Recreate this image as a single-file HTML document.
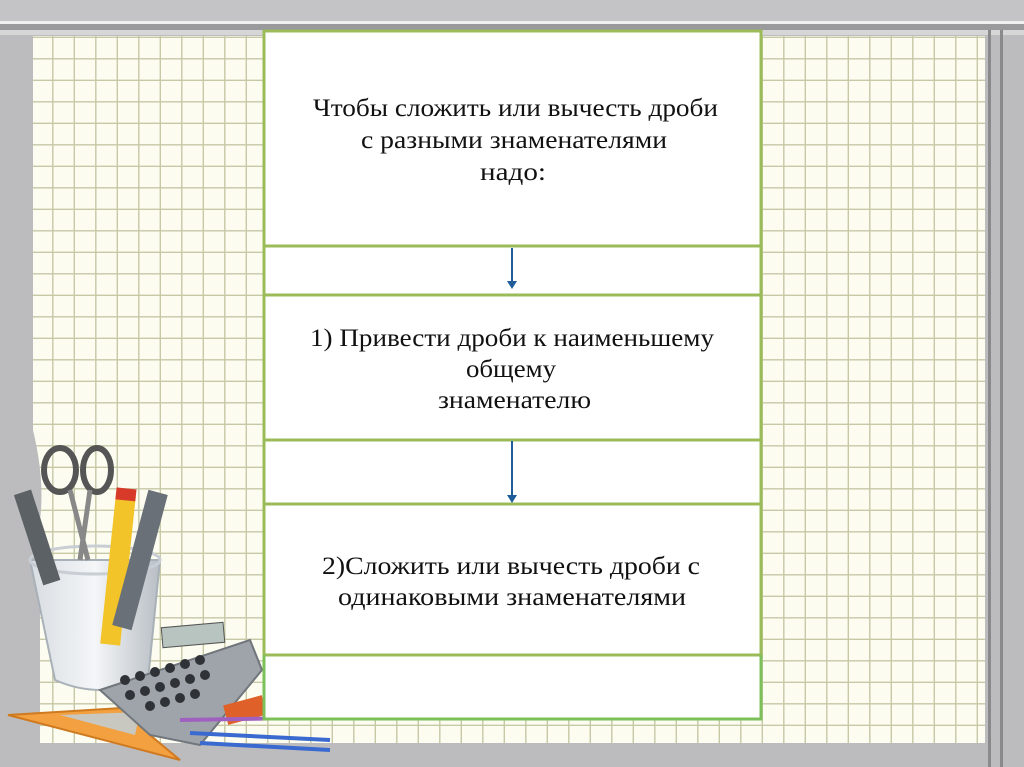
<!DOCTYPE html>
<html><head><meta charset="utf-8"><style>
html,body{margin:0;padding:0;width:1024px;height:767px;overflow:hidden;background:#b9b9bb}
svg{display:block}
text{font-family:"Liberation Serif",serif;font-size:25px;fill:#111;text-anchor:start}
</style></head><body>
<svg width="1024" height="767" viewBox="0 0 1024 767" xmlns="http://www.w3.org/2000/svg">
<defs>
<pattern id="grid" x="32" y="38" width="21.5" height="21.5" patternUnits="userSpaceOnUse">
<rect width="21.5" height="21.5" fill="#fcfdf0"/>
<path d="M21 0V21.5M0 21H21.5" stroke="#c6c8a6" stroke-width="1.8"/>
</pattern>
<linearGradient id="cup" x1="0" x2="1"><stop offset="0" stop-color="#d8dde2"/><stop offset=".5" stop-color="#f4f6f8"/><stop offset="1" stop-color="#b8bec4"/></linearGradient>
</defs>
<rect width="1024" height="767" fill="#bcbcbe"/>
<rect x="0" y="0" width="1024" height="22" fill="#c4c4c6"/>
<rect x="0" y="21" width="1024" height="3" fill="#f0f0f0"/>
<rect x="0" y="24" width="1024" height="6" fill="#9a9a9c"/>
<rect x="0" y="30" width="1024" height="5" fill="#d6d6d6"/>
<rect x="33" y="36" width="952" height="707" fill="url(#grid)"/>
<path d="M33 430 Q45 480 40 520 L40 743 L33 743Z" fill="#bcbcbe"/>
<rect x="988" y="30" width="3" height="737" fill="#8a8a8c"/>
<rect x="1000" y="30" width="3" height="737" fill="#8a8a8c"/>
<g>
<path d="M30 560 L160 560 L148 680 Q100 700 55 680Z" fill="url(#cup)" stroke="#a8b0b8" stroke-width="2"/>
<ellipse cx="95" cy="560" rx="65" ry="14" fill="none" stroke="#c8ced4" stroke-width="3"/>
<rect x="28" y="490" width="18" height="95" fill="#5c6166" transform="rotate(-18 37 537)"/>
<ellipse cx="60" cy="470" rx="16" ry="22" fill="none" stroke="#555" stroke-width="6"/>
<ellipse cx="97" cy="470" rx="14" ry="22" fill="none" stroke="#555" stroke-width="6"/>
<path d="M70 490 L88 560 M90 490 L80 560" stroke="#888" stroke-width="5"/>
<rect x="108" y="495" width="20" height="150" fill="#f2c42a" transform="rotate(6 118 570)"/>
<rect x="108" y="488" width="20" height="12" fill="#d83a2a" transform="rotate(6 118 570)"/>
<rect x="130" y="490" width="20" height="140" fill="#6a7078" transform="rotate(15 140 560)"/>
<path d="M8 715 L170 705 L150 735 L180 760 Z" fill="#f2a040" stroke="#d07a20" stroke-width="2"/>
<path d="M60 715 L140 712 L135 735Z" fill="#c8c8c0"/>
<path d="M100 690 L250 640 L262 670 L200 745 L150 735Z" fill="#9ea4aa" stroke="#70767c" stroke-width="2"/>
<rect x="162" y="625" width="62" height="20" fill="#b8c4c0" stroke="#555" transform="rotate(-5 193 635)"/>
<g fill="#2f3236">
<circle cx="125" cy="680" r="5"/><circle cx="140" cy="676" r="5"/><circle cx="155" cy="672" r="5"/><circle cx="170" cy="668" r="5"/><circle cx="185" cy="664" r="5"/><circle cx="200" cy="660" r="5"/>
<circle cx="130" cy="695" r="5"/><circle cx="145" cy="691" r="5"/><circle cx="160" cy="687" r="5"/><circle cx="175" cy="683" r="5"/><circle cx="190" cy="679" r="5"/><circle cx="205" cy="675" r="5"/>
<circle cx="150" cy="706" r="5"/><circle cx="165" cy="702" r="5"/><circle cx="180" cy="698" r="5"/><circle cx="195" cy="694" r="5"/>
</g>
<rect x="225" y="700" width="40" height="20" fill="#e0602a" transform="rotate(-15 245 710)"/>
<path d="M190 733 L330 740 M200 743 L330 750" stroke="#3a6ad0" stroke-width="4"/>
<path d="M180 720 L300 718" stroke="#a060c0" stroke-width="4"/>
</g>
<rect x="264" y="31" width="497" height="688" fill="#fff" stroke="#9bbb59" stroke-width="3"/>
<g stroke="#9bbb59" stroke-width="3">
<line x1="264" y1="246" x2="761" y2="246"/>
<line x1="264" y1="295" x2="761" y2="295"/>
<line x1="264" y1="440" x2="761" y2="440"/>
<line x1="264" y1="504" x2="761" y2="504"/>
<line x1="264" y1="655" x2="761" y2="655"/>
</g>
<rect x="262.5" y="655" width="3" height="65" fill="#7cc05a"/>
<rect x="759.5" y="655" width="3" height="65" fill="#7cc05a"/>
<rect x="263" y="717.5" width="499" height="3" fill="#7cc05a"/>
<g stroke="#1f5d9a" stroke-width="2">
<line x1="512" y1="248" x2="512" y2="282"/>
<line x1="512" y1="441" x2="512" y2="496"/>
</g>
<path d="M507 281 L517 281 L512 289Z M507 495 L517 495 L512 503Z" fill="#1f5d9a"/>
<text x="313" y="116" textLength="405" lengthAdjust="spacingAndGlyphs">Чтобы сложить или вычесть дроби</text>
<text x="361" y="148" textLength="306" lengthAdjust="spacingAndGlyphs">с разными знаменателями</text>
<text x="480" y="180" textLength="66" lengthAdjust="spacingAndGlyphs">надо:</text>
<text x="310" y="346" textLength="404" lengthAdjust="spacingAndGlyphs">1) Привести дроби к наименьшему</text>
<text x="466" y="377" textLength="90" lengthAdjust="spacingAndGlyphs">общему</text>
<text x="438" y="408" textLength="153" lengthAdjust="spacingAndGlyphs">знаменателю</text>
<text x="322" y="574" textLength="378" lengthAdjust="spacingAndGlyphs">2)Сложить  или вычесть дроби с</text>
<text x="338" y="605" textLength="348" lengthAdjust="spacingAndGlyphs">одинаковыми знаменателями</text>
</svg>
</body></html>
